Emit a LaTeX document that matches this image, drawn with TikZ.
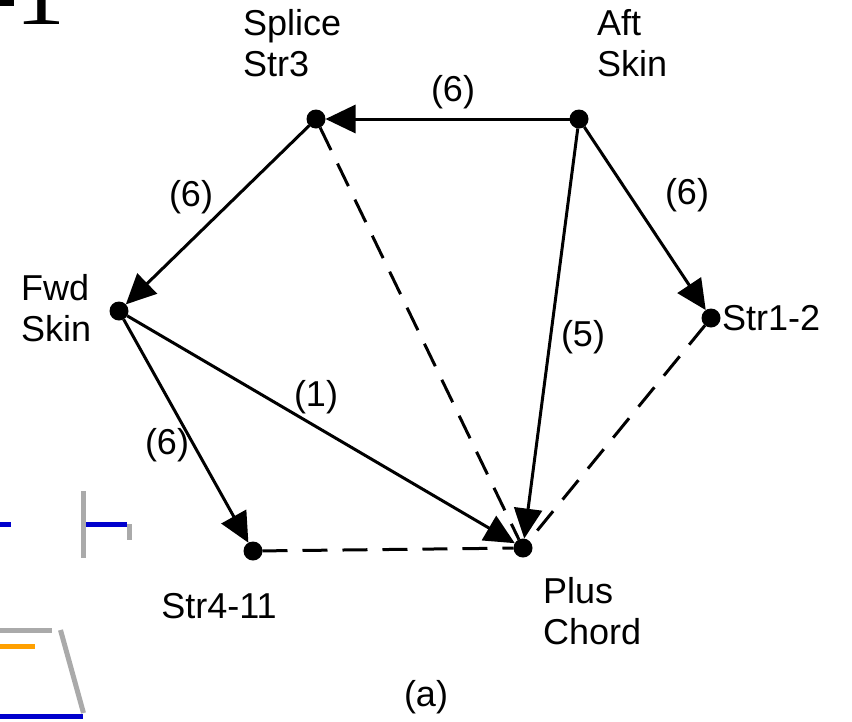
\documentclass[tikz,border=0pt]{standalone}
\usepackage{fontspec}
\setmainfont{Liberation Sans}
\newfontfamily\serifbig{Liberation Serif}
\usetikzlibrary{arrows.meta}
\definecolor{partblue}{RGB}{0,0,205}
\definecolor{partgrey}{RGB}{170,170,170}
\definecolor{partorange}{RGB}{255,160,0}
\begin{document}
\begin{tikzpicture}[x=1pt,y=-1pt,
  vtx/.style={circle,fill=black,inner sep=0pt,minimum size=19pt,outer sep=0pt},
  lbl/.style={font=\fontsize{36}{41}\selectfont, inner sep=0pt, align=left},
  wlbl/.style={font=\fontsize{36}{41}\selectfont, inner sep=0pt},
  arr/.style={line width=3pt,-{Triangle[length=30pt,width=28pt]}},
  dsh/.style={line width=3pt,dash pattern=on 25pt off 15pt},
  frag/.style={line width=5pt}]
\useasboundingbox (0,0) rectangle (852,721);
% vertices
\node[vtx] (spl) at (316,119) {};
\node[vtx] (aft) at (579,119) {};
\node[vtx] (fwd) at (119,311) {};
\node[vtx] (s12) at (711,318) {};
\node[vtx] (s411) at (253,551) {};
\node[vtx] (pc) at (523,548) {};
% vertex labels
\node[lbl,anchor=west] (tspl) at (243,43) {Splice\\Str3};
\node[lbl,anchor=west] (taft) at (597,43) {Aft\\Skin};
\node[lbl,anchor=west] (tfwd) at (21,308) {Fwd\\Skin};
\node[wlbl,anchor=west] (ts12) at (722,318) {Str1-2};
\node[wlbl] (ts411) at (219,606) {Str4-11};
\node[lbl,anchor=west] (tpc) at (543,611) {Plus\\Chord};
\node[wlbl] (ta) at (426,697) {(a)};
% edge labels
\node[wlbl] (e1) at (453,92) {(6)};
\node[wlbl] (e2) at (191,197) {(6)};
\node[wlbl] (e3) at (687,195) {(6)};
\node[wlbl] (e4) at (583,337) {(5)};
\node[wlbl] (e5) at (316,397) {(1)};
\node[wlbl] (e6) at (167,445) {(6)};
% dashed connectors
\draw[dsh] (spl) -- (pc);
\draw[dsh] (s12) -- (pc);
\draw[dsh] (s411) -- (pc);
% arrows
\draw[arr] (aft) -- (spl);
\draw[arr] (spl) -- (fwd);
\draw[arr] (aft) -- (s12);
\draw[arr] (aft) -- (pc);
\draw[arr] (fwd) -- (pc);
\draw[arr] (fwd) -- (s411);
% fragments of neighbouring figures
\draw[frag,partblue] (0,524.5) -- (11,524.5);
\draw[frag,partgrey] (83.5,491) -- (83.5,558);
\draw[frag,partblue] (86,524.5) -- (127,524.5);
\draw[frag,partgrey] (129.5,524) -- (129.5,540);
\draw[frag,partgrey] (0,630.5) -- (52,630.5);
\draw[frag,partorange] (0,646) -- (35,646);
\draw[frag,partgrey] (60.5,630) -- (83.5,713);
\draw[frag,partblue] (0,716.5) -- (83,716.5);
\fill (0,0) rectangle (14,6);
\node[font=\serifbig\fontsize{100}{100}\selectfont, inner sep=0pt, anchor=base] (big) at (41,24) {1};
\end{tikzpicture}
\end{document}
